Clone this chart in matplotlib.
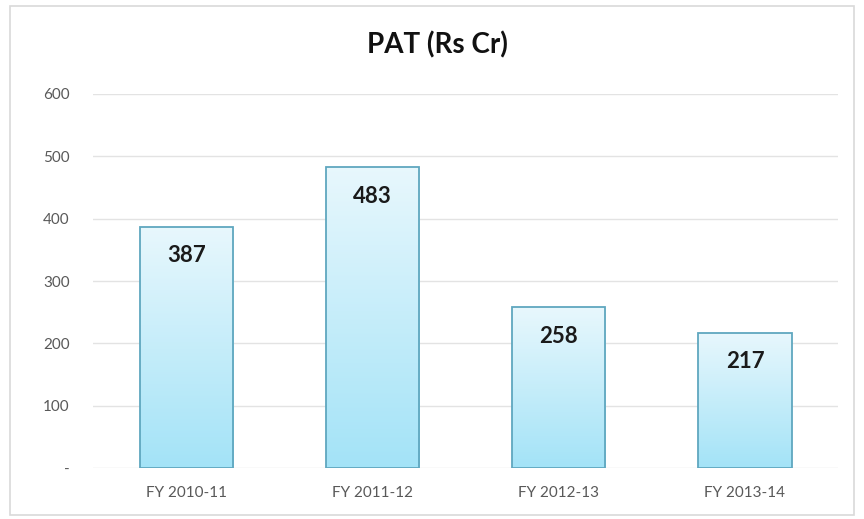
import numpy as np
import matplotlib.pyplot as plt
from matplotlib.patches import Rectangle

categories = ["FY 2010-11", "FY 2011-12", "FY 2012-13", "FY 2013-14"]
pat = [387, 483, 258, 217]
yticks = [0, 100, 200, 300, 400, 500, 600]
ytick_labels = ["-", "100", "200", "300", "400", "500", "600"]

plt.rcParams['font.family'] = ['Lato', 'DejaVu Sans']

fig = plt.figure(figsize=(8.64, 5.19), dpi=100)
ax = fig.add_axes([0.108, 0.098, 0.862, 0.721])

x = np.arange(len(categories))
bars = ax.bar(x, pat, width=0.5, color="none", edgecolor="#5fa7bf",
              linewidth=1.3, zorder=3)

# vertical gradient inside each bar
grad = np.linspace(0, 1, 256).reshape(-1, 1)
top = np.array([0.91, 0.97, 0.99])
bottom = np.array([0.64, 0.89, 0.97])
img = bottom + (top - bottom) * grad[..., None]
img = img.reshape(256, 1, 3)
for b in bars:
    x0, y0 = b.get_x(), b.get_y()
    w, h = b.get_width(), b.get_height()
    im = ax.imshow(img, extent=[x0, x0 + w, y0, y0 + h], origin="lower",
                   aspect="auto", zorder=2)
    im.set_clip_path(b)

for xi, v in zip(x, pat):
    ax.annotate(str(v), (xi, v), xytext=(0, -21), textcoords="offset points",
                ha="center", va="center", fontsize=16, fontweight="bold",
                color="#1a1a1a", zorder=4)

ax.set_xlim(-0.5, len(categories) - 0.5)
ax.set_ylim(0, 600)
ax.set_yticks(yticks)
ax.set_yticklabels(ytick_labels)
ax.set_xticks(x)
ax.set_xticklabels(categories)
ax.tick_params(length=0, labelsize=11, colors="#595959")
ax.tick_params(axis="y", pad=17)
ax.tick_params(axis="x", pad=13)
ax.yaxis.grid(True, color="#e3e3e3", linewidth=1)
ax.set_axisbelow(True)
for s in ax.spines.values():
    s.set_visible(False)

fig.text(0.506, 0.913, "PAT (Rs Cr)", ha="center", va="center",
         fontsize=20, fontweight="bold", color="#111111")

fig.patches.append(Rectangle((0.012, 0.008), 0.977, 0.98,
                             transform=fig.transFigure, fill=False,
                             edgecolor="#d9d9d9", linewidth=1.2))

fig.savefig("out.png", dpi=100)
